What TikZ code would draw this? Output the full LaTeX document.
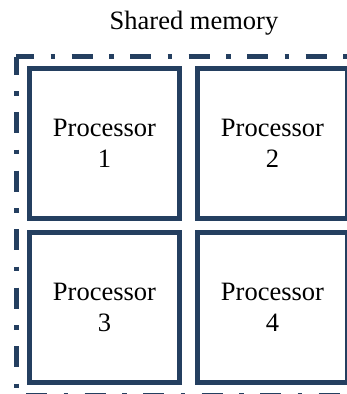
\documentclass[tikz,border=0pt]{standalone}
\usepackage{fontspec}
\setmainfont{Liberation Serif}
\usetikzlibrary{positioning}
\definecolor{dunkelblau}{HTML}{243F60}

\begin{document}
\begin{tikzpicture}[x=1pt, y=-1pt,
	proz/.style={draw=dunkelblau, line width=5pt, minimum width=150pt, minimum height=150pt, align=center, inner sep=0pt, outer sep=0pt},
	rahmen/.style={draw=dunkelblau, line width=5pt, dash pattern=on 21pt off 16.5pt on 4.5pt off 16.5pt, dash phase=3pt}]
	\useasboundingbox (0,0) rectangle (347,394); % Rand wie im Original
	\clip (0,0) rectangle (347,394);
	
	\fontsize{26.5}{31}\selectfont
	\node[anchor=base] (titel) at (194,29) {Shared memory};
	
	% Prozessoren
	\node[proz] (p1) at (104.5,143.5) {Processor\\1};
	\node[proz, right=18pt of p1] (p2) {Processor\\2};
	\node[proz, below=14pt of p1] (p3) {Processor\\3};
	\node[proz, below=14pt of p2] (p4) {Processor\\4};
	
	% gemeinsamer Speicher, Rahmen
	\coordinate (lo) at (16,56.5);
	\coordinate (ro) at (359,56.5);
	\coordinate (lu) at (16,395.5);
	\coordinate (ru) at (359,395.5);
	\draw[rahmen] (lo) -- (ro);
	\draw[rahmen] (lo) -- (lu);
	\draw[rahmen, dash phase=48.5pt] (lu) -- (ru);
	\draw[rahmen] (ro) -- (ru);
	
	%\draw[help lines] (0,0) grid (347,394);
\end{tikzpicture}
\end{document}
